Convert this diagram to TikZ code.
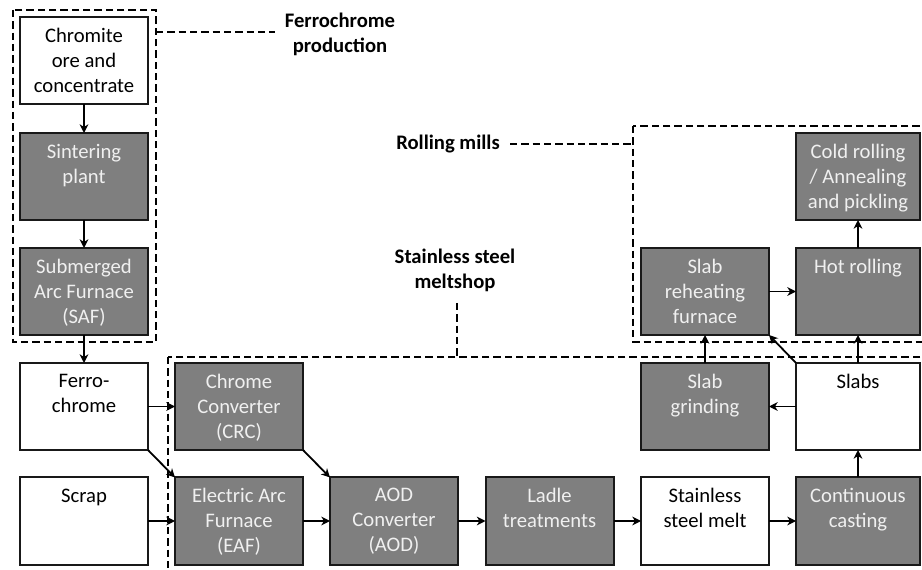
\documentclass[tikz,border=0pt]{standalone}
\usepackage{fontspec}
\setmainfont{Carlito}
\usetikzlibrary{arrows.meta}
\definecolor{boxgray}{RGB}{127,127,127}
\definecolor{lighttxt}{RGB}{240,240,240}
\definecolor{edge}{RGB}{25,25,25}
\begin{document}
\begin{tikzpicture}[x=0.75pt,y=-0.75pt,
  every node/.style={font=\fontsize{15.5}{18.75}\selectfont},
  procbox/.style={draw=edge, line width=1.5pt, minimum width=96pt,
    minimum height=65.25pt, inner sep=0pt, outer sep=0pt},
  darkbox/.style={procbox, fill=boxgray},
  lightbox/.style={procbox, fill=white},
  edgecol/.style={minimum width=93pt},
  boxtext/.style={align=center, inner sep=0pt, anchor=north,
    execute at begin node=\vphantom{Ah}},
  darktext/.style={boxtext, text=lighttxt},
  lighttext/.style={boxtext, text=black},
  flow/.style={-{Stealth[length=6.5pt,width=6.5pt,inset=2pt]}, line width=1.35pt},
  zone/.style={draw=black, dash pattern=on 5.5pt off 3pt, line width=2pt},
  zonelabel/.style={font=\bfseries\fontsize{15.5}{18.75}\selectfont, align=center}
]
\useasboundingbox (0,0) rectangle (922,570);
\clip (0,0) rectangle (922,570);

% plant areas (dashed outlines) and their captions
\draw[zone] (13,10) rectangle (156,342);
\draw[zone] (633,126) rectangle (940,342);
\draw[zone] (168,357) rectangle (940,590);

\node[zonelabel] (fcLabel) at (340,34.5) {Ferrochrome\\production};
\node[zonelabel] (rmLabel) at (448,144) {Rolling mills};
\node[zonelabel] (msLabel) at (455,270.5) {Stainless steel\\meltshop};

\coordinate (fcA) at (156,32);  \coordinate (fcB) at (275,32);
\coordinate (rmA) at (510,144); \coordinate (rmB) at (633,144);
\coordinate (msA) at (457,303); \coordinate (msB) at (457,357);
\draw[zone] (fcA) -- (fcB);
\draw[zone] (rmA) -- (rmB);
\draw[zone] (msA) -- (msB);

% process boxes
\node[lightbox] (chrom) at (84,60.5) {};
\node[lighttext] (chromT) at ([yshift=-7.9pt]chrom.north) {Chromite\\ore and\\concentrate};
\node[darkbox] (sint) at (84,176.5) {};
\node[darktext] (sintT) at ([yshift=-7.9pt]sint.north) {Sintering\\plant};
\node[darkbox] (saf) at (84,291.5) {};
\node[darktext] (safT) at ([yshift=-7.9pt]saf.north) {Submerged\\Arc Furnace\\(SAF)};
\node[lightbox] (fecr) at (84,406.5) {};
\node[lighttext] (fecrT) at ([yshift=-7.9pt]fecr.north) {Ferro-\\chrome};
\node[lightbox] (scrap) at (84,521) {};
\node[lighttext] (scrapT) at ([yshift=-7.9pt]scrap.north) {Scrap};

\node[darkbox] (crc) at (239,406.5) {};
\node[darktext] (crcT) at ([yshift=-7.9pt]crc.north) {Chrome\\Converter\\(CRC)};
\node[darkbox] (eaf) at (239,521) {};
\node[darktext] (eafT) at ([yshift=-7.9pt]eaf.north) {Electric Arc\\Furnace\\(EAF)};
\node[darkbox] (aod) at (394,521) {};
\node[darktext] (aodT) at ([yshift=-7.9pt]aod.north) {AOD\\Converter\\(AOD)};
\node[darkbox] (ladle) at (549.5,521) {};
\node[darktext] (ladleT) at ([yshift=-7.9pt]ladle.north) {Ladle\\treatments};
\node[lightbox] (melt) at (705,521) {};
\node[lighttext] (meltT) at ([yshift=-7.9pt]melt.north) {Stainless\\steel melt};
\node[darkbox, edgecol] (cc) at (858,521) {};
\node[darktext] (ccT) at ([yshift=-7.9pt]cc.north) {Continuous\\casting};

\node[lightbox, edgecol] (slabs) at (858,406.5) {};
\node[lighttext] (slabsT) at ([yshift=-7.9pt]slabs.north) {Slabs};
\node[darkbox] (grind) at (705,406.5) {};
\node[darktext] (grindT) at ([yshift=-7.9pt]grind.north) {Slab\\grinding};
\node[darkbox] (reheat) at (705,291.5) {};
\node[darktext] (reheatT) at ([yshift=-7.9pt]reheat.north) {Slab\\reheating\\furnace};
\node[darkbox, edgecol] (hot) at (858,291.5) {};
\node[darktext] (hotT) at ([yshift=-7.9pt]hot.north) {Hot rolling};
\node[darkbox, edgecol] (cold) at (858,176.5) {};
\node[darktext] (coldT) at ([yshift=-7.9pt]cold.north) {Cold rolling\\/ Annealing\\and pickling};

% material flows
\draw[flow] (chrom) -- (sint);
\draw[flow] (sint) -- (saf);
\draw[flow] (saf) -- (fecr);
\draw[flow] (fecr) -- (crc);
\draw[flow] (fecr.south east) -- (eaf.north west);
\draw[flow] (scrap) -- (eaf);
\draw[flow] (crc.south east) -- (aod.north west);
\draw[flow] (eaf) -- (aod);
\draw[flow] (aod) -- (ladle);
\draw[flow] (ladle) -- (melt);
\draw[flow] (melt) -- (cc);
\draw[flow] (cc) -- (slabs);
\draw[flow] (slabs) -- (grind);
\draw[flow] (grind) -- (reheat);
\draw[flow] (slabs.north west) -- (reheat.south east);
\draw[flow] (slabs) -- (hot);
\draw[flow] (reheat) -- (hot);
\draw[flow] (hot) -- (cold);
\end{tikzpicture}
\end{document}
